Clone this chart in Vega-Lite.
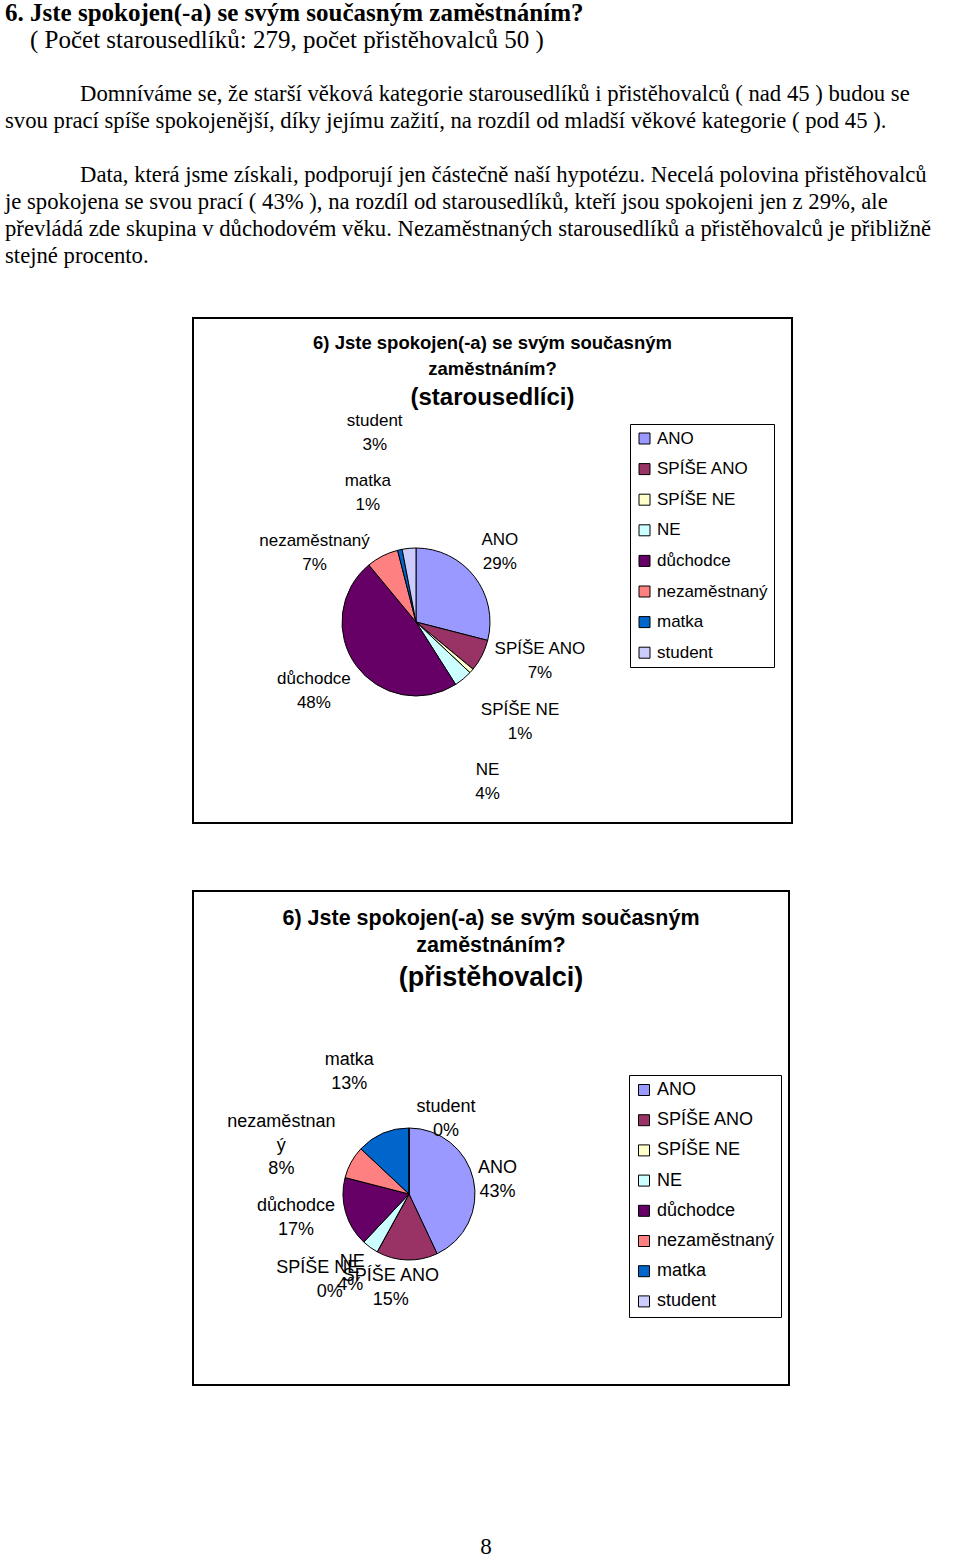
{
  "$schema": "https://vega.github.io/schema/vega-lite/v6.json",
  "background": "white",
  "padding": 0,
  "bounds": "flush",
  "spacing": 68,
  "config": {"view": {"stroke": null}},
  "resolve": {"scale": {"color": "independent", "theta": "independent"}, "legend": {"color": "independent"}},
  "datasets": {
    "starousedlici": [
      {"kategorie": "ANO", "podil": 0.29, "poradi": 1},
      {"kategorie": "SPÍŠE ANO", "podil": 0.07, "poradi": 2},
      {"kategorie": "SPÍŠE NE", "podil": 0.01, "poradi": 3},
      {"kategorie": "NE", "podil": 0.04, "poradi": 4},
      {"kategorie": "důchodce", "podil": 0.48, "poradi": 5},
      {"kategorie": "nezaměstnaný", "podil": 0.07, "poradi": 6},
      {"kategorie": "matka", "podil": 0.01, "poradi": 7},
      {"kategorie": "student", "podil": 0.03, "poradi": 8}
    ],
    "pristehovalci": [
      {"kategorie": "ANO", "podil": 0.43, "poradi": 1},
      {"kategorie": "SPÍŠE ANO", "podil": 0.15, "poradi": 2},
      {"kategorie": "SPÍŠE NE", "podil": 0.0, "poradi": 3},
      {"kategorie": "NE", "podil": 0.04, "poradi": 4},
      {"kategorie": "důchodce", "podil": 0.17, "poradi": 5},
      {"kategorie": "nezaměstnaný", "podil": 0.08, "poradi": 6},
      {"kategorie": "matka", "podil": 0.13, "poradi": 7},
      {"kategorie": "student", "podil": 0.0, "poradi": 8}
    ]
  },
  "vconcat": [
    {
      "width": 960,
      "height": 250,
      "data": {"values": [
        {"radek": 0, "odsazeni": 0, "typ": "nadpis", "text": "6. Jste spokojen(-a) se svým současným zaměstnáním?"},
        {"radek": 1, "odsazeni": 1, "typ": "podnadpis", "text": "( Počet starousedlíků: 279, počet přistěhovalců 50 )"},
        {"radek": 3, "odsazeni": 3, "typ": "text", "text": "Domníváme se, že starší věková kategorie starousedlíků i přistěhovalců ( nad 45 ) budou se"},
        {"radek": 4, "odsazeni": 0, "typ": "text", "text": "svou prací spíše spokojenější, díky jejímu zažití, na rozdíl od mladší věkové kategorie ( pod 45 )."},
        {"radek": 6, "odsazeni": 3, "typ": "text", "text": "Data, která jsme získali, podporují jen částečně naší hypotézu. Necelá polovina přistěhovalců"},
        {"radek": 7, "odsazeni": 0, "typ": "text", "text": "je spokojena se svou prací ( 43% ), na rozdíl od starousedlíků, kteří jsou spokojeni jen z 29%, ale"},
        {"radek": 8, "odsazeni": 0, "typ": "text", "text": "převládá zde skupina v důchodovém věku. Nezaměstnaných starousedlíků a přistěhovalců je přibližně"},
        {"radek": 9, "odsazeni": 0, "typ": "text", "text": "stejné procento."}
      ]},
      "encoding": {
        "x": {"field": "odsazeni", "type": "quantitative", "scale": {"domain": [0, 3], "range": [5, 80], "zero": false, "nice": false}, "axis": null},
        "y": {"field": "radek", "type": "quantitative", "scale": {"domain": [-0.48, 8.78], "reverse": true, "zero": false, "nice": false}, "axis": null},
        "text": {"field": "text", "type": "nominal"}
      },
      "layer": [
        {"transform": [{"filter": "datum.typ === 'nadpis'"}],
         "mark": {"type": "text", "align": "left", "baseline": "middle", "font": "Liberation Serif", "fontSize": 25, "fontWeight": "bold", "color": "black"}},
        {"transform": [{"filter": "datum.typ === 'podnadpis'"}],
         "mark": {"type": "text", "align": "left", "baseline": "middle", "font": "Liberation Serif", "fontSize": 25, "color": "black"}},
        {"transform": [{"filter": "datum.typ === 'text'"}],
         "mark": {"type": "text", "align": "left", "baseline": "middle", "font": "Liberation Serif", "fontSize": 22.7, "color": "black"}}
      ]
    },
    {
      "spacing": 0,
      "bounds": "flush",
      "hconcat": [
        {"width": 193, "height": 10, "data": {"values": []}, "mark": "point"},
        {
          "spacing": 68,
          "bounds": "flush",
          "resolve": {"scale": {"color": "independent", "theta": "independent"}, "legend": {"color": "independent"}},
          "vconcat": [
            {
              "width": 599,
              "height": 505,
              "view": {"stroke": "black", "strokeWidth": 2},
              "data": {"name": "starousedlici"},
              "title": {"text": ["6) Jste spokojen(-a) se svým současným", "zaměstnáním?"], "subtitle": "(starousedlíci)", "anchor": "middle", "frame": "group", "offset": -92, "font": "Liberation Sans", "fontSize": 18.5, "fontWeight": "bold", "lineHeight": 26, "color": "black", "subtitleFont": "Liberation Sans", "subtitleFontSize": 24, "subtitleFontWeight": "bold", "subtitleColor": "black", "subtitlePadding": 8},
              "encoding": {
                "theta": {"field": "podil", "type": "quantitative", "stack": true},
                "order": {"field": "poradi", "type": "quantitative"}
              },
              "layer": [
                {"mark": {"type": "arc", "x": 223, "y": 304, "outerRadius": 74, "stroke": "black", "strokeWidth": 1},
                 "encoding": {"color": {"field": "kategorie", "type": "nominal",
                   "scale": {"domain": ["ANO", "SPÍŠE ANO", "SPÍŠE NE", "NE", "důchodce", "nezaměstnaný", "matka", "student"], "range": ["#9999FF", "#993366", "#FFFFCC", "#CCFFFF", "#660066", "#FF8080", "#0066CC", "#CCCCFF"]},
                   "legend": {"title": null, "orient": "none", "legendX": 437, "legendY": 106, "symbolType": "square", "symbolSize": 121, "symbolStrokeColor": "black", "symbolStrokeWidth": 1, "labelFont": "Liberation Sans", "labelFontSize": 17, "labelColor": "black", "labelLimit": 0, "labelOffset": 4, "rowPadding": 12.6, "padding": 6, "strokeColor": "black", "fillColor": "white"}}}},
                {"mark": {"type": "text", "x": 223, "y": 304, "radius": 120, "dx": -11, "dy": -8, "font": "Liberation Sans", "fontSize": 17, "color": "black"},
                 "encoding": {"text": {"condition": {"test": "datum.kategorie === 'ANO'", "field": "kategorie", "type": "nominal"}, "value": ""}}},
                {"mark": {"type": "text", "x": 223, "y": 304, "radius": 120, "dx": -11, "dy": 16, "font": "Liberation Sans", "fontSize": 17, "color": "black"},
                 "encoding": {"text": {"condition": {"test": "datum.kategorie === 'ANO'", "field": "podil", "type": "quantitative", "format": ".0%"}, "value": ""}}},
                {"mark": {"type": "text", "x": 223, "y": 304, "radius": 120, "dx": 17, "dy": -27, "font": "Liberation Sans", "fontSize": 17, "color": "black"},
                 "encoding": {"text": {"condition": {"test": "datum.kategorie === 'SPÍŠE ANO'", "field": "kategorie", "type": "nominal"}, "value": ""}}},
                {"mark": {"type": "text", "x": 223, "y": 304, "radius": 120, "dx": 17, "dy": -3, "font": "Liberation Sans", "fontSize": 17, "color": "black"},
                 "encoding": {"text": {"condition": {"test": "datum.kategorie === 'SPÍŠE ANO'", "field": "podil", "type": "quantitative", "format": ".0%"}, "value": ""}}},
                {"mark": {"type": "text", "x": 223, "y": 304, "radius": 120, "dx": 14, "dy": 9, "font": "Liberation Sans", "fontSize": 17, "color": "black"},
                 "encoding": {"text": {"condition": {"test": "datum.kategorie === 'SPÍŠE NE'", "field": "kategorie", "type": "nominal"}, "value": ""}}},
                {"mark": {"type": "text", "x": 223, "y": 304, "radius": 120, "dx": 14, "dy": 33, "font": "Liberation Sans", "fontSize": 17, "color": "black"},
                 "encoding": {"text": {"condition": {"test": "datum.kategorie === 'SPÍŠE NE'", "field": "podil", "type": "quantitative", "format": ".0%"}, "value": ""}}},
                {"mark": {"type": "text", "x": 223, "y": 304, "radius": 120, "dx": -5, "dy": 56, "font": "Liberation Sans", "fontSize": 17, "color": "black"},
                 "encoding": {"text": {"condition": {"test": "datum.kategorie === 'NE'", "field": "kategorie", "type": "nominal"}, "value": ""}}},
                {"mark": {"type": "text", "x": 223, "y": 304, "radius": 120, "dx": -5, "dy": 80, "font": "Liberation Sans", "fontSize": 17, "color": "black"},
                 "encoding": {"text": {"condition": {"test": "datum.kategorie === 'NE'", "field": "podil", "type": "quantitative", "format": ".0%"}, "value": ""}}},
                {"mark": {"type": "text", "x": 223, "y": 304, "radius": 120, "dx": -5, "dy": -14, "font": "Liberation Sans", "fontSize": 17, "color": "black"},
                 "encoding": {"text": {"condition": {"test": "datum.kategorie === 'důchodce'", "field": "kategorie", "type": "nominal"}, "value": ""}}},
                {"mark": {"type": "text", "x": 223, "y": 304, "radius": 120, "dx": -5, "dy": 10, "font": "Liberation Sans", "fontSize": 17, "color": "black"},
                 "encoding": {"text": {"condition": {"test": "datum.kategorie === 'důchodce'", "field": "podil", "type": "quantitative", "format": ".0%"}, "value": ""}}},
                {"mark": {"type": "text", "x": 223, "y": 304, "radius": 120, "dx": -47, "dy": 26, "font": "Liberation Sans", "fontSize": 17, "color": "black"},
                 "encoding": {"text": {"condition": {"test": "datum.kategorie === 'nezaměstnaný'", "field": "kategorie", "type": "nominal"}, "value": ""}}},
                {"mark": {"type": "text", "x": 223, "y": 304, "radius": 120, "dx": -47, "dy": 50, "font": "Liberation Sans", "fontSize": 17, "color": "black"},
                 "encoding": {"text": {"condition": {"test": "datum.kategorie === 'nezaměstnaný'", "field": "podil", "type": "quantitative", "format": ".0%"}, "value": ""}}},
                {"mark": {"type": "text", "x": 223, "y": 304, "radius": 120, "dx": -22, "dy": -24, "font": "Liberation Sans", "fontSize": 17, "color": "black"},
                 "encoding": {"text": {"condition": {"test": "datum.kategorie === 'matka'", "field": "kategorie", "type": "nominal"}, "value": ""}}},
                {"mark": {"type": "text", "x": 223, "y": 304, "radius": 120, "dx": -22, "dy": 0, "font": "Liberation Sans", "fontSize": 17, "color": "black"},
                 "encoding": {"text": {"condition": {"test": "datum.kategorie === 'matka'", "field": "podil", "type": "quantitative", "format": ".0%"}, "value": ""}}},
                {"mark": {"type": "text", "x": 223, "y": 304, "radius": 120, "dx": -30, "dy": -82, "font": "Liberation Sans", "fontSize": 17, "color": "black"},
                 "encoding": {"text": {"condition": {"test": "datum.kategorie === 'student'", "field": "kategorie", "type": "nominal"}, "value": ""}}},
                {"mark": {"type": "text", "x": 223, "y": 304, "radius": 120, "dx": -30, "dy": -58, "font": "Liberation Sans", "fontSize": 17, "color": "black"},
                 "encoding": {"text": {"condition": {"test": "datum.kategorie === 'student'", "field": "podil", "type": "quantitative", "format": ".0%"}, "value": ""}}}
              ]
            },
            {
              "width": 596,
              "height": 494,
              "view": {"stroke": "black", "strokeWidth": 2},
              "data": {"name": "pristehovalci"},
              "title": {"text": ["6) Jste spokojen(-a) se svým současným", "zaměstnáním?"], "subtitle": "(přistěhovalci)", "anchor": "middle", "frame": "group", "offset": -100, "font": "Liberation Sans", "fontSize": 21.5, "fontWeight": "bold", "lineHeight": 27, "color": "black", "subtitleFont": "Liberation Sans", "subtitleFontSize": 27, "subtitleFontWeight": "bold", "subtitleColor": "black", "subtitlePadding": 9},
              "encoding": {
                "theta": {"field": "podil", "type": "quantitative", "stack": true},
                "order": {"field": "poradi", "type": "quantitative"}
              },
              "layer": [
                {"mark": {"type": "arc", "x": 216, "y": 303, "outerRadius": 66, "stroke": "black", "strokeWidth": 1},
                 "encoding": {"color": {"field": "kategorie", "type": "nominal",
                   "scale": {"domain": ["ANO", "SPÍŠE ANO", "SPÍŠE NE", "NE", "důchodce", "nezaměstnaný", "matka", "student"], "range": ["#9999FF", "#993366", "#FFFFCC", "#CCFFFF", "#660066", "#FF8080", "#0066CC", "#CCCCFF"]},
                   "legend": {"title": null, "orient": "none", "legendX": 436, "legendY": 184, "symbolType": "square", "symbolSize": 121, "symbolStrokeColor": "black", "symbolStrokeWidth": 1, "labelFont": "Liberation Sans", "labelFontSize": 18, "labelColor": "black", "labelLimit": 0, "labelOffset": 4, "rowPadding": 12.2, "padding": 6, "strokeColor": "black", "fillColor": "white"}}}},
                {"mark": {"type": "text", "x": 216, "y": 303, "radius": 100, "dx": -9, "dy": -4, "font": "Liberation Sans", "fontSize": 18, "color": "black"},
                 "encoding": {"text": {"condition": {"test": "datum.kategorie === 'ANO'", "field": "kategorie", "type": "nominal"}, "value": ""}}},
                {"mark": {"type": "text", "x": 216, "y": 303, "radius": 100, "dx": -9, "dy": 20, "font": "Liberation Sans", "fontSize": 18, "color": "black"},
                 "encoding": {"text": {"condition": {"test": "datum.kategorie === 'ANO'", "field": "podil", "type": "quantitative", "format": ".0%"}, "value": ""}}},
                {"mark": {"type": "text", "x": 216, "y": 303, "radius": 100, "dx": -15, "dy": -18, "font": "Liberation Sans", "fontSize": 18, "color": "black"},
                 "encoding": {"text": {"condition": {"test": "datum.kategorie === 'SPÍŠE ANO'", "field": "kategorie", "type": "nominal"}, "value": ""}}},
                {"mark": {"type": "text", "x": 216, "y": 303, "radius": 100, "dx": -15, "dy": 6, "font": "Liberation Sans", "fontSize": 18, "color": "black"},
                 "encoding": {"text": {"condition": {"test": "datum.kategorie === 'SPÍŠE ANO'", "field": "podil", "type": "quantitative", "format": ".0%"}, "value": ""}}},
                {"mark": {"type": "text", "x": 216, "y": 303, "radius": 100, "dx": -43, "dy": -14, "font": "Liberation Sans", "fontSize": 18, "color": "black"},
                 "encoding": {"text": {"condition": {"test": "datum.kategorie === 'SPÍŠE NE'", "field": "kategorie", "type": "nominal"}, "value": ""}}},
                {"mark": {"type": "text", "x": 216, "y": 303, "radius": 100, "dx": -31, "dy": 10, "font": "Liberation Sans", "fontSize": 18, "color": "black"},
                 "encoding": {"text": {"condition": {"test": "datum.kategorie === 'SPÍŠE NE'", "field": "podil", "type": "quantitative", "format": ".0%"}, "value": ""}}},
                {"mark": {"type": "text", "x": 216, "y": 303, "radius": 100, "dx": 2, "dy": -13, "font": "Liberation Sans", "fontSize": 18, "color": "black"},
                 "encoding": {"text": {"condition": {"test": "datum.kategorie === 'NE'", "field": "kategorie", "type": "nominal"}, "value": ""}}},
                {"mark": {"type": "text", "x": 216, "y": 303, "radius": 100, "dx": 0, "dy": 10, "font": "Liberation Sans", "fontSize": 18, "color": "black"},
                 "encoding": {"text": {"condition": {"test": "datum.kategorie === 'NE'", "field": "podil", "type": "quantitative", "format": ".0%"}, "value": ""}}},
                {"mark": {"type": "text", "x": 216, "y": 303, "radius": 100, "dx": -17, "dy": -16, "font": "Liberation Sans", "fontSize": 18, "color": "black"},
                 "encoding": {"text": {"condition": {"test": "datum.kategorie === 'důchodce'", "field": "kategorie", "type": "nominal"}, "value": ""}}},
                {"mark": {"type": "text", "x": 216, "y": 303, "radius": 100, "dx": -17, "dy": 8, "font": "Liberation Sans", "fontSize": 18, "color": "black"},
                 "encoding": {"text": {"condition": {"test": "datum.kategorie === 'důchodce'", "field": "podil", "type": "quantitative", "format": ".0%"}, "value": ""}}},
                {"mark": {"type": "text", "x": 216, "y": 303, "radius": 100, "dx": -40, "dy": -24, "lineHeight": 24, "lineBreak": {"expr": "regexp('(?=ý)')"}, "font": "Liberation Sans", "fontSize": 18, "color": "black"},
                 "encoding": {"text": {"condition": {"test": "datum.kategorie === 'nezaměstnaný'", "field": "kategorie", "type": "nominal"}, "value": ""}}},
                {"mark": {"type": "text", "x": 216, "y": 303, "radius": 100, "dx": -40, "dy": 23, "font": "Liberation Sans", "fontSize": 18, "color": "black"},
                 "encoding": {"text": {"condition": {"test": "datum.kategorie === 'nezaměstnaný'", "field": "podil", "type": "quantitative", "format": ".0%"}, "value": ""}}},
                {"mark": {"type": "text", "x": 216, "y": 303, "radius": 100, "dx": -20, "dy": -42, "font": "Liberation Sans", "fontSize": 18, "color": "black"},
                 "encoding": {"text": {"condition": {"test": "datum.kategorie === 'matka'", "field": "kategorie", "type": "nominal"}, "value": ""}}},
                {"mark": {"type": "text", "x": 216, "y": 303, "radius": 100, "dx": -20, "dy": -18, "font": "Liberation Sans", "fontSize": 18, "color": "black"},
                 "encoding": {"text": {"condition": {"test": "datum.kategorie === 'matka'", "field": "podil", "type": "quantitative", "format": ".0%"}, "value": ""}}},
                {"mark": {"type": "text", "x": 216, "y": 303, "radius": 100, "dx": 37, "dy": 13, "font": "Liberation Sans", "fontSize": 18, "color": "black"},
                 "encoding": {"text": {"condition": {"test": "datum.kategorie === 'student'", "field": "kategorie", "type": "nominal"}, "value": ""}}},
                {"mark": {"type": "text", "x": 216, "y": 303, "radius": 100, "dx": 37, "dy": 37, "font": "Liberation Sans", "fontSize": 18, "color": "black"},
                 "encoding": {"text": {"condition": {"test": "datum.kategorie === 'student'", "field": "podil", "type": "quantitative", "format": ".0%"}, "value": ""}}}
              ]
            },
            {
              "width": 586,
              "height": 103,
              "data": {"values": [{"strana": "8"}]},
              "mark": {"type": "text", "font": "Liberation Serif", "fontSize": 23, "dy": 42, "color": "black"},
              "encoding": {"text": {"field": "strana", "type": "nominal"}}
            }
          ]
        }
      ]
    }
  ]
}
